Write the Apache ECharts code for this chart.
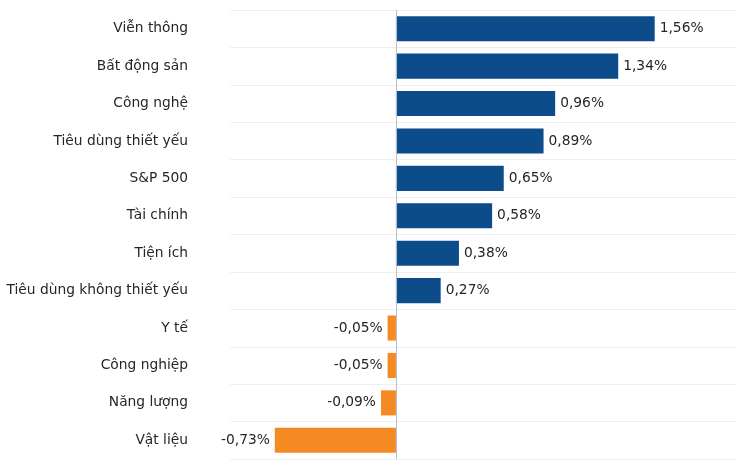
<!DOCTYPE html>
<html><head><meta charset="utf-8">
<script src="https://cdn.jsdelivr.net/npm/echarts@6/dist/echarts.min.js"></script>
<style>html,body{margin:0;padding:0;background:#fff}#c{width:738px;height:460px}</style>
</head><body><div id="c"></div>
<script>
var categories = ["Viễn thông","Bất động sản","Công nghệ","Tiêu dùng thiết yếu","S&P 500","Tài chính","Tiện ích","Tiêu dùng không thiết yếu","Y tế","Công nghiệp","Năng lượng","Vật liệu"];
var values = [1.56,1.34,0.96,0.89,0.65,0.58,0.38,0.27,-0.05,-0.05,-0.09,-0.73];
var POS = '#0d4c8a', NEG = '#f58a22';
var chart = echarts.init(document.getElementById('c'));
var data = values.map(function(v){
  return {value:v, itemStyle:{color: v>=0?POS:NEG},
    label:{position: v>=0?'right':'left'}};
});
chart.setOption({
  animation:false,
  grid:{left:230,right:2,top:10,bottom:1,containLabel:false},
  xAxis:{type:'value',min:-1,max:2.05,show:false,splitLine:{show:false}},
  yAxis:{type:'category',data:categories,inverse:true,
    axisLine:{show:false},axisTick:{show:false},
    axisLabel:{margin:42,fontFamily:'DejaVu Sans',fontSize:13.8,color:'#262626'},
    splitLine:{show:true,lineStyle:{color:'#efefef',width:1}}},
  series:[{type:'bar',data:data,barCategoryGap:'33%',
    label:{show:true,distance:5,fontFamily:'DejaVu Sans',fontSize:13.8,color:'#262626',
      formatter:function(p){return p.value.toFixed(2).replace('.',',')+'%';}},
    markLine:{silent:true,symbol:'none',label:{show:false},
      lineStyle:{color:'#b4bfcf',type:'solid',width:1},data:[{xAxis:0}]}
  }]
});
</script></body></html>
